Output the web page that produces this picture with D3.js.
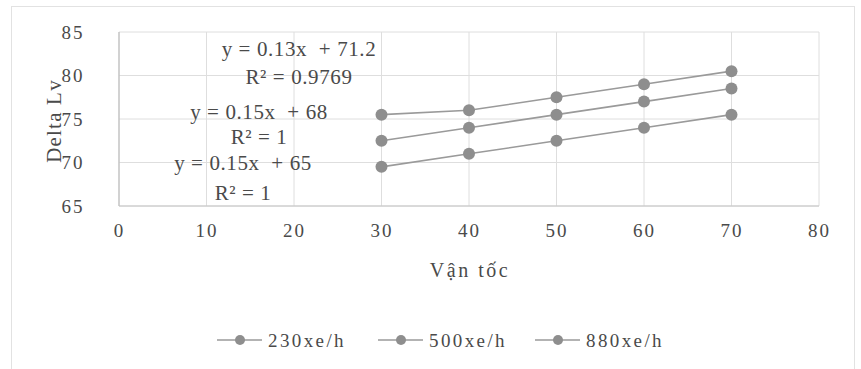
<!DOCTYPE html>
<html>
<head>
<meta charset="utf-8">
<script src="https://cdn.jsdelivr.net/npm/d3@7"></script>
<style>
  body { margin: 0; background: #fff; }
  text { font-family: "Liberation Serif", "DejaVu Serif", serif; fill: #4a4a4a; white-space: pre; }
</style>
</head>
<body>
<svg id="chart" width="861" height="369"></svg>
<script>
// data
const speeds = [30, 40, 50, 60, 70];
const series230 = [69.5, 71, 72.5, 74, 75.5];
const series500 = [72.5, 74, 75.5, 77, 78.5];
const series880 = [75.5, 76, 77.5, 79, 80.5];
const seriesNames = ['230xe/h', '500xe/h', '880xe/h'];
const xTicks = [0, 10, 20, 30, 40, 50, 60, 70, 80];
const yTicks = [65, 70, 75, 80, 85];
const trendLabels = [
  ['y = 0.15x  + 65', 'R² = 1'],
  ['y = 0.15x  + 68', 'R² = 1'],
  ['y = 0.13x  + 71.2', 'R² = 0.9769']
];

const svg = d3.select('#chart');
const margin = { left: 119, right: 42, top: 32, bottom: 163 };
const W = 861, H = 369;

const x = d3.scaleLinear().domain([0, 80]).range([margin.left, W - margin.right]);
const y = d3.scaleLinear().domain([65, 85]).range([H - margin.bottom, margin.top]);

const lineColor = '#9a9a9a';
const dotColor = '#8e8e8e';

// outer chart border
svg.append('rect')
  .attr('x', 11.5).attr('y', 6.5)
  .attr('width', 843).attr('height', 380)
  .attr('fill', 'none').attr('stroke', '#e2e2e2');

// grid
svg.append('g').selectAll('line').data(xTicks).join('line')
  .attr('x1', d => x(d)).attr('x2', d => x(d))
  .attr('y1', y(85)).attr('y2', y(65))
  .attr('stroke', '#dedede');
svg.append('g').selectAll('line').data(yTicks).join('line')
  .attr('x1', x(0)).attr('x2', x(80))
  .attr('y1', d => y(d)).attr('y2', d => y(d))
  .attr('stroke', '#dedede');

// axis lines
svg.append('line').attr('x1', x(0)).attr('x2', x(0))
  .attr('y1', y(85)).attr('y2', y(65)).attr('stroke', '#b5b5b5');
svg.append('line').attr('x1', x(0)).attr('x2', x(80))
  .attr('y1', y(65)).attr('y2', y(65)).attr('stroke', '#c4c4c4');

// tick labels
const xAxis = svg.append('g')
  .attr('transform', `translate(0,${y(65)})`)
  .call(d3.axisBottom(x).tickValues(xTicks).tickSize(0).tickPadding(18));
const yAxis = svg.append('g')
  .attr('transform', `translate(${x(0)},0)`)
  .call(d3.axisLeft(y).tickValues(yTicks).tickSize(0).tickPadding(22));
[xAxis, yAxis].forEach(a => {
  a.select('.domain').remove();
  a.selectAll('text')
    .style('font-family', '"Liberation Serif", serif')
    .attr('fill', '#4a4a4a')
    .attr('font-size', 19);
});
xAxis.selectAll('text').attr('letter-spacing', 2);
yAxis.selectAll('text').attr('text-anchor', 'middle').attr('x', -46).attr('letter-spacing', 2);

// axis titles
svg.append('text')
  .attr('x', x(40) + 1).attr('y', 277)
  .attr('text-anchor', 'middle').attr('font-size', 20).attr('letter-spacing', 2.5)
  .text('Vận tốc');
svg.append('text')
  .attr('transform', `translate(61,${y(75) + 2}) rotate(-90)`)
  .attr('text-anchor', 'middle').attr('font-size', 21).attr('letter-spacing', 1.2)
  .text('Delta Lv');

// series
const allSeries = [series230, series500, series880];
const line = d3.line().x((d, i) => x(speeds[i])).y(d => y(d));
allSeries.forEach(vals => {
  svg.append('path').datum(vals)
    .attr('d', line)
    .attr('fill', 'none').attr('stroke', lineColor).attr('stroke-width', 1.6);
  svg.append('g').selectAll('circle').data(vals).join('circle')
    .attr('cx', (d, i) => x(speeds[i]))
    .attr('cy', d => y(d))
    .attr('r', 6)
    .attr('fill', dotColor);
});

// trendline labels
const labelPos = [
  { cx: 243, cy: [163, 193] },
  { cx: 259, cy: [112, 137] },
  { cx: 299, cy: [49, 77] }
];
trendLabels.forEach((lines, k) => {
  lines.forEach((t, j) => {
    svg.append('text')
      .attr('x', labelPos[k].cx).attr('y', labelPos[k].cy[j])
      .attr('dy', '0.35em')
      .attr('text-anchor', 'middle')
      .attr('font-size', 21)
      .attr('letter-spacing', 0.6)
      .text(t);
  });
});

// legend
const legendX = [217, 378, 535];
const legend = svg.append('g').selectAll('g').data(seriesNames).join('g')
  .attr('transform', (d, i) => `translate(${legendX[i]},340)`);
legend.append('line')
  .attr('x1', 0).attr('x2', 45)
  .attr('stroke', lineColor).attr('stroke-width', 1.6);
legend.append('circle')
  .attr('cx', 23).attr('r', 5)
  .attr('fill', dotColor);
legend.append('text')
  .attr('x', 51).attr('dy', '0.35em')
  .attr('font-size', 19).attr('letter-spacing', 2.4)
  .text(d => d);
</script>
</body>
</html>
